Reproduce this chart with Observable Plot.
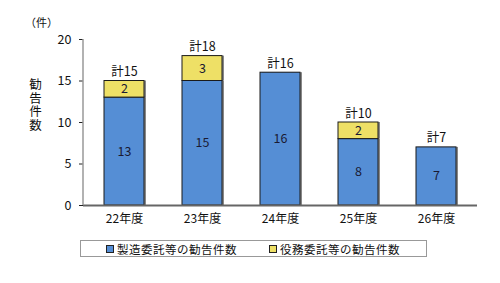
<!DOCTYPE html>
<html><head><meta charset="utf-8">
<script src="https://cdn.jsdelivr.net/npm/d3@7"></script>
<script src="https://cdn.jsdelivr.net/npm/@observablehq/plot@0.6"></script>
<style>
body{margin:0;background:#fff;font-family:"Noto Sans CJK JP",sans-serif;}
#wrap{position:relative;width:500px;height:283px;}
#legend{position:absolute;left:80px;top:240px;width:347px;height:17px;border:1px solid #999;box-sizing:border-box;font-size:11.5px;color:#111;}
.item{display:flex;align-items:center;position:absolute;top:0;height:16px;}
.sw{width:6px;height:6px;border:1px solid #222;margin-right:3px;}
#yl{position:absolute;left:28px;top:78px;font-size:12.5px;line-height:14px;color:#111;writing-mode:vertical-rl;letter-spacing:1px;}
#unit{position:absolute;left:25px;top:14px;font-size:11px;color:#111;}
</style></head>
<body><div id="wrap"><div id="chart"></div>
<div id="unit">（件）</div>
<div id="yl">勧告件数</div>
<div id="legend"></div></div>
<script>
const years = ["22年度","23年度","24年度","25年度","26年度"];
const seizo = [13,15,16,8,7];
const ekimu = [2,3,0,2,0];
const seriesNames = ["製造委託等の勧告件数","役務委託等の勧告件数"];
const colors = ["#558ED5","#EEE066"];
const yTicks = [0,5,10,15,20];

const data = [];
years.forEach((y,i)=>{
  data.push({year:y, type:seriesNames[0], value:seizo[i]});
  if (ekimu[i] > 0) data.push({year:y, type:seriesNames[1], value:ekimu[i]});
});
const totals = years.map((y,i)=>({year:y, total:seizo[i]+ekimu[i]}));

const font = "Noto Sans CJK JP";
const plot = Plot.plot({
  width:500, height:232,
  marginLeft:83, marginRight:23, marginTop:39, marginBottom:27,
  style:{fontFamily:font, fontSize:"12px", color:"#111", background:"transparent"},
  x:{domain:years, paddingInner:0.49, paddingOuter:0.255, label:null},
  y:{domain:[0,20], label:null},
  color:{domain:seriesNames, range:colors},
  marks:[
    Plot.barY(data, Plot.stackY({x:"year", y:"value", z:"type", fill:"#888", dx:2, order:seriesNames})),
    Plot.barY(data, Plot.stackY({x:"year", y:"value", z:"type", fill:"type", stroke:"#1a1a1a", strokeWidth:1, order:seriesNames})),
    Plot.text(data, Plot.stackY({x:"year", y:"value", z:"type", text:d=>String(d.value), fill:"#1a1a33", fontSize:12.5, order:seriesNames})),
    Plot.text(totals, {x:"year", y:"total", text:d=>"計"+d.total, dy:-9, fill:"#111", fontSize:12.5}),
    Plot.ruleY([0], {stroke:"#666", strokeWidth:2}),
    Plot.axisY({ticks:yTicks, tickSize:4, tickPadding:8, fontSize:12.5, stroke:"#222"}),
    Plot.axisX({tickSize:0, tickPadding:9, fontSize:12})
  ]
});
document.getElementById("chart").appendChild(plot);
const ys = plot.scale("y");
const yf = d3.scaleLinear().domain(ys.domain).range(ys.range);
d3.select(plot).append("line")
  .attr("x1",83).attr("x2",83)
  .attr("y1", yf(20)).attr("y2", yf(0))
  .attr("stroke","#999").attr("stroke-width",1.5);

const lg = document.getElementById("legend");
const lefts = [25, 188];
seriesNames.forEach((n,i)=>{
  const it = document.createElement("div"); it.className="item"; it.style.left=lefts[i]+"px";
  const sw = document.createElement("div"); sw.className="sw"; sw.style.background=colors[i];
  const t = document.createElement("span"); t.textContent=n; t.style.letterSpacing="0.5px";
  it.appendChild(sw); it.appendChild(t); lg.appendChild(it);
});
</script></body></html>
